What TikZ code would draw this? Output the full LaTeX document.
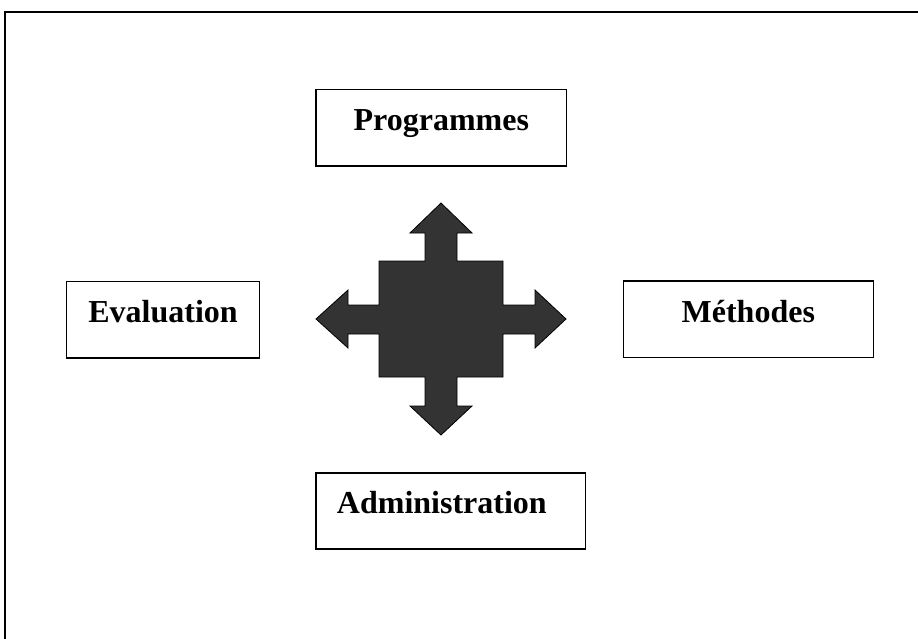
\documentclass[tikz,border=0pt]{standalone}
\usepackage{fontspec}
\setmainfont{Liberation Serif}
\usetikzlibrary{positioning}
\definecolor{gris}{HTML}{333333}
\tikzstyle{cadre} = [line width=1.8pt]
\tikzstyle{boite} = [draw, line width=1.5pt, inner xsep=21pt, inner ysep=19.7pt, text height=21.2pt, text depth=15.6pt, font=\fontsize{32}{38}\selectfont\bfseries]
\tikzstyle{croix} = [draw=black, line width=0.8pt, fill=gris]
\begin{document}
\begin{tikzpicture}[x=1pt,y=-1pt]
	\useasboundingbox (0,0) rectangle (918,639);
	\draw[cadre] (5,650) |- (930,12);
	\node[boite, text width=208.7pt, align=center] (programmes) at (441.3,127.7) {Programmes};
	\node[boite, text width=150.6pt, align=center] (evaluation) at (163,319.7) {Evaluation};
	\node[boite, text width=208pt, align=center] (methodes) at (748.3,319.3) {Méthodes};
	\node[boite, text width=227.7pt, align=left] (administration) at (450.8,511) {Administration};
	\coordinate (centre) at (441,319);
	\draw[croix] (441,203) -- (472,233) -- (457,233) -- (457,261) -- (503,261) -- (503,305) -- (535,305) -- (535,290)
		-- (566,319) -- (535,348) -- (535,334) -- (503,334) -- (503,377) -- (457,377) -- (457,406) -- (472,406)
		-- (441,435) -- (410,406) -- (425,406) -- (425,377) -- (379,377) -- (379,334) -- (348,334) -- (348,348)
		-- (316,319) -- (348,290) -- (348,305) -- (379,305) -- (379,261) -- (425,261) -- (425,233) -- (410,233) -- cycle;
\end{tikzpicture}
\end{document}
